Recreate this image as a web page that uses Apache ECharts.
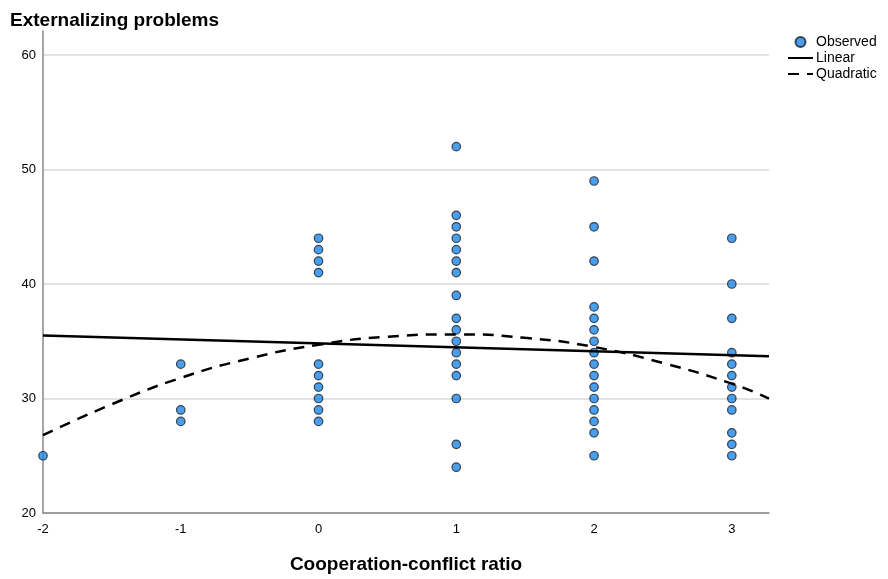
<!DOCTYPE html>
<html>
<head>
<meta charset="utf-8">
<script src="https://cdn.jsdelivr.net/npm/echarts@6/dist/echarts.min.js"></script>
<style>
  html, body { margin: 0; padding: 0; background: #fff; }
  #chart { width: 888px; height: 579px; }
</style>
</head>
<body>
<div id="chart"></div>
<script>
// observed values, grouped by cooperation-conflict ratio
var ratios = [-2, -1, 0, 1, 2, 3];
var observedByRatio = [
    [25],
    [33, 29, 28],
    [44, 43, 42, 41, 33, 32, 31, 30, 29, 28],
    [52, 46, 45, 44, 43, 42, 41, 39, 37, 36, 35, 34, 33, 32, 30, 26, 24],
    [49, 45, 42, 38, 37, 36, 35, 34, 33, 32, 31, 30, 29, 28, 27, 25],
    [44, 40, 37, 34, 33, 32, 31, 30, 29, 27, 26, 25]
];

// fitted lines
var linearX = [-2, 3.27];
var linearY = [35.5, 33.7];
var quadX = [-2, -1.5, -1, -0.5, 0, 0.5, 1, 1.5, 2, 2.5, 3, 3.27];
var quadY = [26.8, 29.5, 31.8, 33.5, 34.7, 35.4, 35.6, 35.3, 34.5, 33.1, 31.3, 30.0];

var xTicks = [-2, -1, 0, 1, 2, 3];
var yTicks = [20, 30, 40, 50, 60];

var observed = [];
ratios.forEach(function (r, i) {
    observedByRatio[i].forEach(function (v) {
        observed.push([r, v]);
    });
});
var linear = linearX.map(function (x, i) { return [x, linearY[i]]; });
var quadratic = quadX.map(function (x, i) { return [x, quadY[i]]; });

var myChart = echarts.init(document.getElementById('chart'));

var font = '"Liberation Sans", Arial, sans-serif';

option = {
    animation: false,
    textStyle: { fontFamily: font },
    title: {
        text: 'Externalizing problems',
        left: 5,
        top: 6,
        textStyle: { fontSize: 19, fontWeight: 'bold', color: '#000', fontFamily: font }
    },
    legend: {
        orient: 'vertical',
        left: 782,
        top: 30,
        itemWidth: 25,
        itemHeight: 10,
        itemGap: 2,
        textStyle: { fontSize: 14, color: '#000', padding: [0, 0, 0, -2] },
        data: [
            { name: 'Observed' },
            { name: 'Linear', itemStyle: { opacity: 0 } },
            { name: 'Quadratic', itemStyle: { opacity: 0 } }
        ]
    },
    grid: {
        left: 43,
        right: 119,
        top: 31,
        bottom: 65
    },
    xAxis: {
        type: 'value',
        min: -2,
        max: 3.27,
        interval: 1,
        name: 'Cooperation-conflict ratio',
        nameLocation: 'middle',
        nameGap: 42,
        nameTextStyle: { fontSize: 19, fontWeight: 'bold', color: '#000' },
        axisLine: { onZero: false, lineStyle: { color: '#888', width: 1.5 } },
        axisTick: { show: false },
        splitLine: { show: false },
        axisLabel: {
            color: '#000',
            fontSize: 13,
            margin: 10,
            formatter: function (v) {
                return xTicks.indexOf(v) >= 0 ? String(v) : '';
            }
        }
    },
    yAxis: {
        type: 'value',
        min: 20,
        max: 62.1,
        interval: 10,
        axisLine: { show: true, onZero: false, lineStyle: { color: '#888', width: 1.5 } },
        axisTick: { show: false },
        splitLine: { showMaxLine: false, lineStyle: { color: '#d9d9d9', width: 1.5 } },
        axisLabel: {
            color: '#000',
            fontSize: 13,
            margin: 7,
            formatter: function (v) {
                return yTicks.indexOf(v) >= 0 ? String(v) : '';
            }
        }
    },
    series: [
        {
            name: 'Observed',
            type: 'scatter',
            symbolSize: 8.5,
            itemStyle: { color: '#1b87e6', borderColor: '#1a1f2a', borderWidth: 1.2 },
            data: observed,
            z: 3
        },
        {
            name: 'Linear',
            type: 'line',
            showSymbol: false,
            symbol: 'none',
            color: '#000',
            lineStyle: { color: '#000', width: 2.5 },
            data: linear,
            z: 4
        },
        {
            name: 'Quadratic',
            type: 'line',
            showSymbol: false,
            symbol: 'none',
            smooth: true,
            color: '#000',
            lineStyle: { color: '#000', width: 2.5, type: [11, 8] },
            data: quadratic,
            z: 4
        }
    ]
};

myChart.setOption(option);
</script>
</body>
</html>
